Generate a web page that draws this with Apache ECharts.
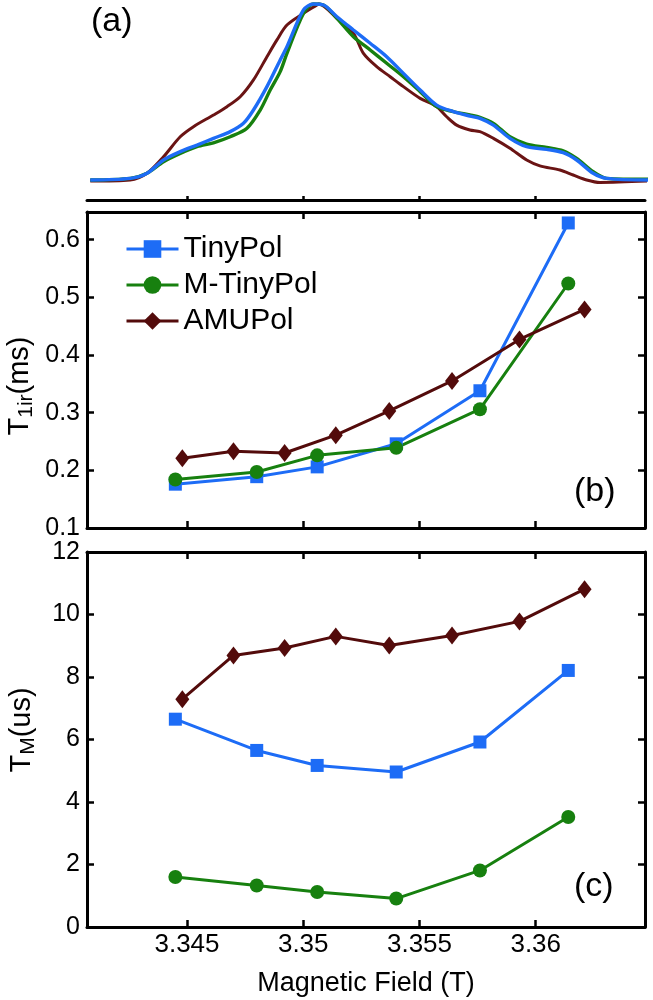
<!DOCTYPE html>
<html><head><meta charset="utf-8">
<script src="https://cdn.jsdelivr.net/npm/echarts@6/dist/echarts.min.js"></script>
<style>html,body{margin:0;padding:0;background:#fff}#c{width:653px;height:1000px}</style>
</head><body><div id="c"></div>
<script>
// ---------- data ----------
const seriesNames = ['TinyPol', 'M-TinyPol', 'AMUPol'];
const xTicks = [3.345, 3.35, 3.355, 3.36];
const t1Ticks = [0.1, 0.2, 0.3, 0.4, 0.5, 0.6];
const tmTicks = [0, 2, 4, 6, 8, 10, 12];

// field positions of the measured points (T)
const fieldTiny = [3.3445, 3.3480, 3.3506, 3.3540, 3.3576, 3.3614];
const fieldAMU = [3.3448, 3.3470, 3.3492, 3.3514, 3.3537, 3.3564, 3.3593, 3.3621];

// (b) T1ir (ms)
const t1Tiny = [0.176, 0.189, 0.206, 0.246, 0.338, 0.629];
const t1MTiny = [0.184, 0.197, 0.226, 0.239, 0.306, 0.524];
const t1AMU = [0.221, 0.233, 0.230, 0.261, 0.303, 0.355, 0.427, 0.479];

// (c) TM (us)
const tmTiny = [6.65, 5.65, 5.17, 4.96, 5.92, 8.21];
const tmMTiny = [1.60, 1.33, 1.12, 0.91, 1.81, 3.52];
const tmAMU = [7.29, 8.69, 8.93, 9.30, 9.01, 9.33, 9.78, 10.81];

// (a) normalised EPR spectra
const specFieldTiny = [3.34084, 3.34256, 3.34328, 3.34399, 3.34471, 3.34543, 3.34614, 3.34686, 3.34743, 3.34786, 3.34844, 3.34901, 3.34930, 3.35001, 3.35044, 3.35087, 3.35145, 3.35216, 3.35288, 3.35359, 3.35431, 3.35503, 3.35574, 3.35646, 3.35717, 3.35760, 3.35818, 3.35889, 3.35961, 3.36047, 3.36118, 3.36176, 3.36247, 3.36305, 3.36484];
const specTiny = [0.006, 0.015, 0.044, 0.119, 0.166, 0.203, 0.241, 0.279, 0.326, 0.401, 0.533, 0.684, 0.759, 0.966, 1.0, 0.994, 0.928, 0.853, 0.778, 0.702, 0.608, 0.514, 0.429, 0.392, 0.367, 0.354, 0.316, 0.241, 0.194, 0.179, 0.160, 0.119, 0.044, 0.015, 0.006];
const specFieldMTiny = [3.34084, 3.34256, 3.34328, 3.34399, 3.34471, 3.34543, 3.34614, 3.34686, 3.34758, 3.34815, 3.34858, 3.34901, 3.34930, 3.35001, 3.35044, 3.35087, 3.35145, 3.35216, 3.35288, 3.35359, 3.35431, 3.35503, 3.35574, 3.35646, 3.35717, 3.35760, 3.35818, 3.35889, 3.35961, 3.36047, 3.36118, 3.36176, 3.36247, 3.36305, 3.36484];
const specMTiny = [0.006, 0.015, 0.044, 0.109, 0.156, 0.194, 0.216, 0.250, 0.298, 0.401, 0.514, 0.618, 0.721, 0.947, 1.0, 0.994, 0.919, 0.815, 0.740, 0.665, 0.589, 0.505, 0.420, 0.392, 0.373, 0.360, 0.326, 0.250, 0.209, 0.190, 0.171, 0.128, 0.053, 0.015, 0.010];
const specFieldAMU = [3.34084, 3.34256, 3.34328, 3.34399, 3.34471, 3.34528, 3.34614, 3.34672, 3.34729, 3.34786, 3.34844, 3.34887, 3.34930, 3.35001, 3.35059, 3.35066, 3.35145, 3.35216, 3.35259, 3.35316, 3.35374, 3.35431, 3.35503, 3.35574, 3.35617, 3.35660, 3.35717, 3.35760, 3.35818, 3.35889, 3.35961, 3.36018, 3.36104, 3.36161, 3.36219, 3.36276, 3.36484];
const specAMU = [0.0, 0.006, 0.044, 0.137, 0.250, 0.307, 0.373, 0.420, 0.476, 0.571, 0.702, 0.797, 0.881, 0.947, 0.994, 1.0, 0.919, 0.834, 0.721, 0.646, 0.589, 0.533, 0.467, 0.420, 0.363, 0.316, 0.288, 0.279, 0.241, 0.185, 0.119, 0.086, 0.062, 0.034, 0.006, -0.008, 0.0];

// ---------- style ----------
const FONT = "'Liberation Sans', Arial, sans-serif";
const BLUE = '#1d6cf6', GREEN = '#17800f', BROWN = '#530b0b', SBROWN = '#6a1414';
const xMin = 3.3407, xMax = 3.3647;

const zip = (xs, ys) => xs.map((x, i) => [x, ys[i]]);

function xAx(gi, pos, labels, tickLen) {
  return {
    type: 'value', gridIndex: gi, position: pos, min: xMin, max: xMax,
    axisLine: { show: true, onZero: false, lineStyle: { color: '#000', width: 3 } },
    axisTick: { show: true, inside: true, length: tickLen, customValues: xTicks, lineStyle: { color: '#000', width: 2.5 } },
    axisLabel: { show: labels, customValues: xTicks, margin: 5, color: '#000', fontSize: 26, fontFamily: FONT, formatter: v => String(v) },
    splitLine: { show: false }
  };
}
function yAx(gi, pos, min, max, ticks, labels) {
  return {
    type: 'value', gridIndex: gi, position: pos, min: min, max: max,
    axisLine: { show: true, onZero: false, lineStyle: { color: '#000', width: 3 } },
    axisTick: { show: true, inside: true, length: 7, customValues: ticks, lineStyle: { color: '#000', width: 2.5 } },
    axisLabel: { show: labels, customValues: ticks, margin: 7, color: '#000', fontSize: 25, fontFamily: FONT, formatter: v => String(v) },
    splitLine: { show: false }
  };
}

const xAxes = [
  xAx(0, 'bottom', false, 4),
  xAx(1, 'bottom', false, 7),
  xAx(1, 'top', false, 7),
  Object.assign(xAx(2, 'bottom', true, 7), {
    name: 'Magnetic Field (T)', nameLocation: 'middle', nameGap: 43,
    nameTextStyle: { color: '#000', fontSize: 27, fontFamily: FONT }
  }),
  xAx(2, 'top', false, 7)
];
const yAxes = [
  { type: 'value', gridIndex: 0, min: -0.107, max: 1.011, show: false },
  yAx(1, 'left', 0.1, 0.648, t1Ticks, true),
  yAx(1, 'right', 0.1, 0.648, t1Ticks, false),
  yAx(2, 'left', 0, 12, tmTicks, true),
  yAx(2, 'right', 0, 12, tmTicks, false)
];

function pts(name, xi, yi, xs, ys, color, symbol, size) {
  return {
    name: name, type: 'line', xAxisIndex: xi, yAxisIndex: yi,
    data: zip(xs, ys), symbol: symbol, symbolSize: size, showSymbol: true,
    lineStyle: { color: color, width: 3 }, itemStyle: { color: color }, z: 3
  };
}
function spec(name, xs, ys, color, width) {
  return {
    name: name, type: 'line', xAxisIndex: 0, yAxisIndex: 0, data: zip(xs, ys),
    showSymbol: false, symbol: 'none', smooth: 0.3, silent: true,
    lineStyle: { color: color, width: width }
  };
}

const series = [
  pts('TinyPol', 1, 1, fieldTiny, t1Tiny, BLUE, 'rect', 13),
  pts('M-TinyPol', 1, 1, fieldTiny, t1MTiny, GREEN, 'circle', 14),
  pts('AMUPol', 1, 1, fieldAMU, t1AMU, BROWN, 'diamond', [14, 18]),
  pts('TinyPol', 3, 3, fieldTiny, tmTiny, BLUE, 'rect', 13),
  pts('M-TinyPol', 3, 3, fieldTiny, tmMTiny, GREEN, 'circle', 14),
  pts('AMUPol', 3, 3, fieldAMU, tmAMU, BROWN, 'diamond', [14, 18]),
  spec('AMUPol spectrum', specFieldAMU, specAMU, SBROWN, 3),
  spec('M-TinyPol spectrum', specFieldMTiny, specMTiny, GREEN, 3.4),
  spec('TinyPol spectrum', specFieldTiny, specTiny, BLUE, 3.4)
];

const chart = echarts.init(document.getElementById('c'), null, { renderer: 'canvas' });
chart.setOption({
  animation: false,
  backgroundColor: '#fff',
  grid: [
    { left: 87, right: 8, top: 2, bottom: 800, outerBoundsMode: 'none' },
    { left: 87, right: 8, top: 212, bottom: 472, outerBoundsMode: 'none' },
    { left: 87, right: 8, top: 552, bottom: 73, outerBoundsMode: 'none' }
  ],
  xAxis: xAxes,
  yAxis: yAxes,
  legend: {
    data: seriesNames, orient: 'vertical', left: 120, top: 229,
    itemWidth: 52, itemHeight: 22, itemGap: 6,
    lineStyle: { width: 3 },
    textStyle: { color: '#000', fontSize: 30, fontFamily: FONT },
    selectedMode: false
  },
  graphic: [
    { type: 'text', left: 91, top: 5, style: { text: '(a)', fill: '#000', font: "34px " + FONT } },
    { type: 'text', left: 574, top: 475, style: { text: '(b)', fill: '#000', font: "34px " + FONT } },
    { type: 'text', left: 574, top: 870, style: { text: '(c)', fill: '#000', font: "34px " + FONT } },
    { type: 'text', x: 20, y: 386, rotation: Math.PI / 2,
      style: { text: '{m|T}{s|1ir}{m|(ms)}', fill: '#000', align: 'center', verticalAlign: 'middle',
        rich: { m: { fontSize: 29, fontFamily: FONT, fill: '#000' }, s: { fontSize: 21, fontFamily: FONT, fill: '#000', padding: [12, 0, 0, 0] } } } },
    { type: 'text', x: 22, y: 730, rotation: Math.PI / 2,
      style: { text: '{m|T}{s|M}{m|(us)}', fill: '#000', align: 'center', verticalAlign: 'middle',
        rich: { m: { fontSize: 29, fontFamily: FONT, fill: '#000' }, s: { fontSize: 21, fontFamily: FONT, fill: '#000', padding: [12, 0, 0, 0] } } } }
  ],
  series: series
});
</script></body></html>
